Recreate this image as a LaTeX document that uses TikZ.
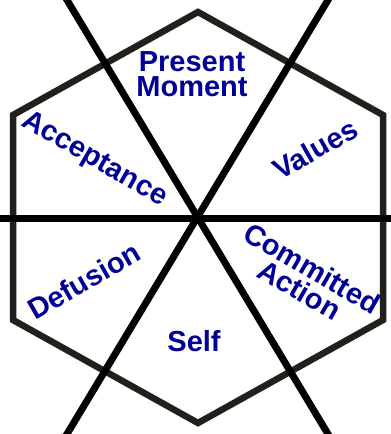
\documentclass[tikz,border=0pt]{standalone}
\usepackage{fontspec}
\setmainfont{Liberation Sans}
\definecolor{hexcol}{RGB}{35,31,27}
\definecolor{labcol}{RGB}{0,0,150}
\begin{document}
\begin{tikzpicture}[x=1pt,y=-1pt,
  hexline/.style={draw=hexcol,line width=6.5pt,line join=miter},
  spoke/.style={draw=black,line width=7pt},
  lab/.style={text=labcol,font=\bfseries\fontsize{29}{25}\selectfont,inner sep=0pt,align=center}]
\clip (0,0) rectangle (391,434);
\fill[white] (0,0) rectangle (391,434);
% hexagon vertices
\coordinate (ht) at (198,12);
\coordinate (hur) at (383,115);
\coordinate (hlr) at (383,320);
\coordinate (hb) at (198,423);
\coordinate (hll) at (13,320);
\coordinate (hul) at (13,115);
\draw[hexline] (ht) -- (hur) -- (hlr) -- (hb) -- (hll) -- (hul) -- cycle;
% spokes
\coordinate (c) at (197.5,217.5);
\coordinate (lw) at (-5,218);
\coordinate (le) at (396,218);
\coordinate (d1a) at (64,-5);
\coordinate (d1b) at (331,439);
\coordinate (d2a) at (331,-5);
\coordinate (d2b) at (64,439);
\draw[spoke] (lw) -- (le);
\draw[spoke] (d1a) -- (d1b);
\draw[spoke] (d2a) -- (d2b);
% labels
\node[lab] (pm) at (192,74) {Present\\Moment};
\node[lab,rotate=-30] (acc) at (94,160) {Acceptance};
\node[lab,rotate=30] (val) at (315,149) {Values};
\node[lab,rotate=30] (def) at (84,281) {Defusion};
\node[lab,rotate=-30] (ca) at (306,279) {Committed\\Action};
\node[lab] (self) at (194,341) {Self};
\end{tikzpicture}
\end{document}
